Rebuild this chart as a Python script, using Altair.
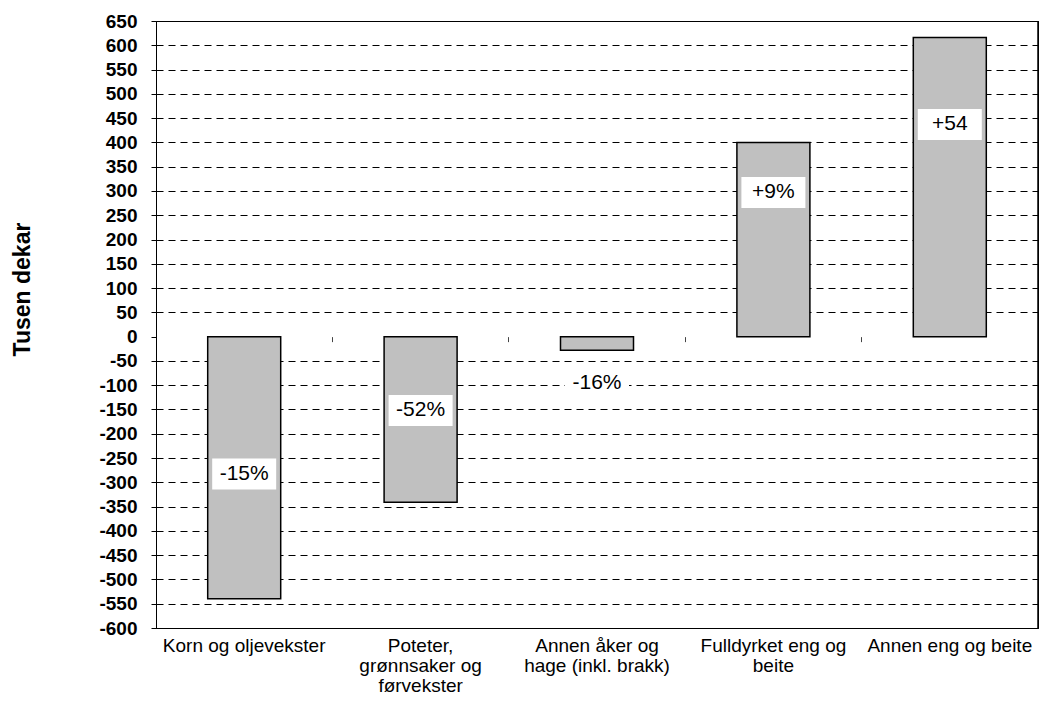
import altair as alt
import pandas as pd

# ---- data ----
categories = [
    "Korn og oljevekster",
    "Poteter,|grønnsaker og|førvekster",
    "Annen åker og|hage (inkl. brakk)",
    "Fulldyrket eng og|beite",
    "Annen eng og beite",
]
values = [-540, -341, -28, 400, 616]
label_texts = ["-15%", "-52%", "-16%", "+9%", "+54"]
label_y = [-283, -152, -96, 297, 437]
y_ticks = [-600, -550, -500, -450, -400, -350, -300, -250, -200, -150, -100, -50,
           0, 50, 100, 150, 200, 250, 300, 350, 400, 450, 500, 550, 600, 650]
y_min, y_max = -600, 650

df = pd.DataFrame({"cat": categories, "val": values, "lbl": label_texts, "ly": label_y})
border_df = pd.DataFrame({"cat": [categories[-1]]})

FONT = "Liberation Sans"
PLOT_W = 882
PLOT_H = 607
xscale = alt.Scale(domain=categories, paddingInner=0, paddingOuter=0)
yscale = alt.Scale(domain=[y_min, y_max], nice=False)

BOX_W = 64
BOX_H = 31
box_path = "M-1,-{r}L1,-{r}L1,{r}L-1,{r}Z".format(r=round(BOX_H / BOX_W, 4))

bars = alt.Chart(df).mark_bar(
    size=73, fill="#c0c0c0", stroke="black", strokeWidth=1.5
).encode(
    x=alt.X(
        "cat:N",
        scale=xscale,
        axis=alt.Axis(
            title=None, orient="bottom", domain=True, domainColor="black", domainWidth=1,
            ticks=False, tickSize=0, grid=False,
            labelAngle=0, labelExpr="split(datum.label, '|')", labelFont=FONT,
            labelFontSize=19, labelLineHeight=20, labelPadding=8, labelColor="black",
            labelOverlap=False, labelLimit=400, labelBaseline="top",
        ),
    ),
    y=alt.Y(
        "val:Q",
        scale=yscale,
        axis=alt.Axis(
            values=y_ticks, title="Tusen dekar", titleFont=FONT, titleFontSize=23,
            titleFontWeight="bold", titleColor="black", titleAngle=-90, titleX=-134,
            titleY=268, titleAlign="center", titleBaseline="middle",
            labelExpr="'' + datum.value", labelFont=FONT, labelFontSize=19,
            labelFontWeight="bold", labelColor="black", labelPadding=14,
            labelOverlap=False, tickSize=5, tickColor="black", tickWidth=1,
            domain=True, domainColor="black", domainWidth=1, grid=True,
            gridColor={"condition": {"test": "datum.value === 0", "value": "transparent"},
                       "value": "black"},
            gridDash=[7, 5], gridWidth=1.2,
        ),
    ),
    y2=alt.datum(0),
)

border = alt.Chart(border_df).mark_rule(color="black", strokeWidth=1.5).encode(
    x=alt.X("cat:N", scale=xscale, bandPosition=1, axis=None),
    y=alt.Y(datum=y_min, scale=yscale, axis=None),
    y2=alt.datum(y_max),
)

boxes = alt.Chart(df).mark_point(
    shape=box_path, size=BOX_W * BOX_W, filled=True, fill="white", opacity=1, strokeWidth=0
).encode(
    x=alt.X("cat:N", scale=xscale, axis=None),
    y=alt.Y("ly:Q", scale=yscale, axis=None),
)

texts = alt.Chart(df).mark_text(
    font=FONT, fontSize=21, color="black", baseline="middle", align="center"
).encode(
    x=alt.X(
        "cat:N",
        scale=xscale,
        axis=alt.Axis(
            title=None, orient="bottom", labels=False, domain=False, ticks=True,
            tickSize=5, tickColor="#444444", tickWidth=1, bandPosition=0,
            offset=-(PLOT_H * (0 - y_min) / (y_max - y_min)), grid=False,
        ),
    ),
    y=alt.Y("ly:Q", scale=yscale, axis=None),
    text="lbl:N",
)

chart = alt.layer(bars, border, boxes, texts).resolve_axis(
    x="independent", y="independent"
).properties(
    width=PLOT_W,
    height=PLOT_H,
    background="white",
    autosize=alt.AutoSizeParams(type="none"),
    padding={"left": 148, "top": 13, "right": 2, "bottom": 67},
).configure_view(stroke="black", strokeWidth=1)

chart.save("out.html", embed_options={"renderer": "svg", "actions": False})
